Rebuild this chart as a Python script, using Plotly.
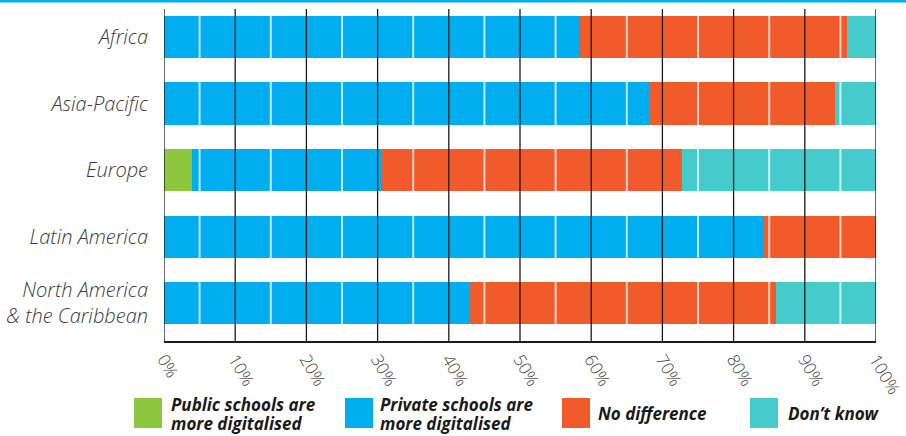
import plotly.graph_objects as go

categories = ["Africa", "Asia-Pacific", "Europe", "Latin America", "North America<br>& the Caribbean"]
series_names = ["Public schools are<br>more digitalised", "Private schools are<br>more digitalised",
                "No difference", "Don\u2019t know"]
public_more = [0.0, 0.0, 3.9, 0.0, 0.0]
private_more = [58.3, 68.1, 26.7, 84.1, 42.9]
no_difference = [37.6, 26.1, 42.2, 15.9, 43.1]
dont_know = [4.1, 5.8, 27.2, 0.0, 14.0]
colors = ["#8dc63f", "#00aeef", "#f15a2b", "#45cbcb"]
x_ticks = [0, 10, 20, 30, 40, 50, 60, 70, 80, 90, 100]
x_tick_labels = [f"{t}%" for t in x_ticks]

W, H = 906, 436
L, R, T, B = 164, 30, 9, 95
pw, ph = W - L - R, H - T - B

fig = go.Figure()
for name, vals, col in zip(series_names, [public_more, private_more, no_difference, dont_know], colors):
    fig.add_trace(go.Bar(y=categories, x=vals, name=name.replace("<br>", " "), orientation="h",
                         marker=dict(color=col, line=dict(width=0)), showlegend=False))

def px_x(p):
    return (p - L) / pw

def px_y(p):
    return (T + ph - p) / ph

shapes = [dict(type="line", xref="paper", yref="paper", x0=px_x(0), x1=px_x(W),
               y0=px_y(1), y1=px_y(1), line=dict(color="#00aeef", width=3))]
# white half-step lines over the bars, then black lines at each tick
for a, b in zip(x_ticks[:-1], x_ticks[1:]):
    shapes.append(dict(type="line", xref="x", yref="paper", x0=(a + b) / 2, x1=(a + b) / 2,
                       y0=0, y1=1, layer="above", line=dict(color="rgba(255,255,255,0.75)", width=2)))
for t in x_ticks:
    shapes.append(dict(type="line", xref="x", yref="paper", x0=t, x1=t, y0=0, y1=1,
                       layer="above", line=dict(color="#1a1a1a", width=1.3)))

annotations = []
sw_x = [134, 345, 562, 750]
txt_x = [169, 378, 596, 786]
leg_font = dict(family="Open Sans", size=17, color="#1a1a1a", style="italic", weight="bold")
for sx, tx, name, col in zip(sw_x, txt_x, series_names, colors):
    shapes.append(dict(type="rect", xref="paper", yref="paper", x0=px_x(sx), x1=px_x(sx + 28),
                       y0=px_y(428), y1=px_y(398), fillcolor=col, line=dict(width=0)))
    lines = name.split("<br>")
    ys = [413] if len(lines) == 1 else [404, 423]
    for line, yy in zip(lines, ys):
        annotations.append(dict(xref="paper", yref="paper", x=px_x(tx), y=px_y(yy), xanchor="left",
                                yanchor="middle", text=line, showarrow=False, align="left",
                                font=leg_font))

fig.update_layout(
    width=W, height=H, barmode="stack", bargap=0.368,
    margin=dict(l=L, r=R, t=T, b=B, autoexpand=False),
    paper_bgcolor="white", plot_bgcolor="white",
    shapes=shapes, annotations=annotations,
    xaxis=dict(range=[0, 100], tickvals=x_ticks, ticktext=x_tick_labels, tickangle=60,
               showgrid=False, automargin=False,
               showline=True, linecolor="#1a1a1a", linewidth=1.5, zeroline=False, ticks="",
               tickfont=dict(family="Open Sans", size=17, color="#444", weight=300)),
    yaxis=dict(range=[4.571, -0.421], showgrid=False, showline=False, automargin=False,
               zeroline=False, ticks="", ticklabelstandoff=15,
               tickfont=dict(family="Open Sans", size=20, color="#3a3a3a", style="italic", weight=300)),
)

fig.write_html("out.html", config={"displayModeBar": False},
               post_script="document.body.style.margin='0';")
